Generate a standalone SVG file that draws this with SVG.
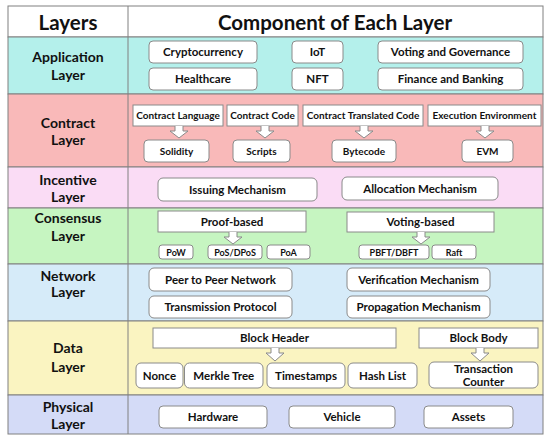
<svg xmlns="http://www.w3.org/2000/svg" width="550" height="441" viewBox="0 0 550 441">
<style>
.row{stroke:#808080;stroke-width:1}
.b{fill:#fff;stroke:#8a8a8a;stroke-width:1}
.t{font-family:Lato,"Open Sans","Liberation Sans",sans-serif;font-weight:bold;fill:#111;text-anchor:middle}
.s{font-size:11.5px}
.xs{font-size:10px}
.l{font-size:14px}
.h{font-size:20.5px}
.arr{fill:#fff;stroke:#8a8a8a;stroke-width:1}
</style>
<rect x="0" y="0" width="550" height="441" fill="#fff"/>
<g id="table">
<rect class="row" x="8" y="6" width="535" height="31" fill="#fff"/>
<rect class="row" x="8" y="37" width="535" height="57" fill="#b4f0eb"/>
<rect class="row" x="8" y="94" width="535" height="73" fill="#f9b9b9"/>
<rect class="row" x="8" y="167" width="535" height="41" fill="#fadcf5"/>
<rect class="row" x="8" y="208" width="535" height="56" fill="#c6f5c1"/>
<rect class="row" x="8" y="264" width="535" height="57" fill="#d6ebf9"/>
<rect class="row" x="8" y="321" width="535" height="74" fill="#faf4c1"/>
<rect class="row" x="8" y="395" width="535" height="39" fill="#d4dbf7"/>
<line class="row" x1="128" y1="6" x2="128" y2="434"/>
<text class="t h" x="68" y="29.5">Layers</text>
<text class="t h" x="335" y="29.5">Component of Each Layer</text>
<text class="t l" x="68" y="62">Application</text><text class="t l" x="68" y="80">Layer</text>
<text class="t l" x="68" y="128">Contract</text><text class="t l" x="68" y="145">Layer</text>
<text class="t l" x="68" y="185">Incentive</text><text class="t l" x="68" y="202">Layer</text>
<text class="t l" x="68" y="223">Consensus</text><text class="t l" x="68" y="241">Layer</text>
<text class="t l" x="68" y="281">Network</text><text class="t l" x="68" y="297">Layer</text>
<text class="t l" x="68" y="353">Data</text><text class="t l" x="68" y="372">Layer</text>
<text class="t l" x="68" y="412">Physical</text><text class="t l" x="68" y="429">Layer</text>
</g>
<g id="application">
<g id="n-crypto"><rect class="b" x="149" y="41" width="108" height="22" rx="4"/><text class="t s" x="203" y="56">Cryptocurrency</text></g>
<g id="n-health"><rect class="b" x="149" y="68" width="108" height="22" rx="4"/><text class="t s" x="203" y="83">Healthcare</text></g>
<g id="n-iot"><rect class="b" x="292" y="41" width="51" height="22" rx="4"/><text class="t s" x="317.5" y="56">IoT</text></g>
<g id="n-nft"><rect class="b" x="292" y="68" width="51" height="22" rx="4"/><text class="t s" x="317.5" y="83">NFT</text></g>
<g id="n-voting"><rect class="b" x="378" y="41" width="145" height="22" rx="4"/><text class="t s" x="450.5" y="56">Voting and Governance</text></g>
<g id="n-finance"><rect class="b" x="378" y="68" width="145" height="22" rx="4"/><text class="t s" x="450.5" y="83">Finance and Banking</text></g>
</g>
<g id="contract">
<g id="n-clang"><rect class="b" x="133" y="105" width="90" height="21"/><text class="t xs" x="178" y="119">Contract Language</text></g>
<g id="n-ccode"><rect class="b" x="227" y="105" width="71" height="21"/><text class="t xs" x="262.5" y="119">Contract Code</text></g>
<g id="n-ctrans"><rect class="b" x="303" y="105" width="120" height="21"/><text class="t xs" x="363" y="119">Contract Translated Code</text></g>
<g id="n-exec"><rect class="b" x="428" y="105" width="113" height="21"/><text class="t xs" x="484.5" y="119">Execution Environment</text></g>
<g id="n-solidity"><rect class="b" x="144" y="140" width="65" height="22" rx="4"/><text class="t xs" x="176.5" y="155">Solidity</text></g>
<g id="n-scripts"><rect class="b" x="233" y="140" width="57" height="22" rx="4"/><text class="t xs" x="261.5" y="155">Scripts</text></g>
<g id="n-bytecode"><rect class="b" x="332" y="140" width="64" height="22" rx="4"/><text class="t xs" x="364" y="155">Bytecode</text></g>
<g id="n-evm"><rect class="b" x="462" y="140" width="51" height="22" rx="4"/><text class="t xs" x="487.5" y="155">EVM</text></g>
</g>
<g id="incentive">
<g id="n-issuing"><rect class="b" x="158" y="178" width="159" height="23" rx="5"/><text class="t s" x="237.5" y="193.5">Issuing Mechanism</text></g>
<g id="n-alloc"><rect class="b" x="342" y="177" width="156" height="23" rx="5"/><text class="t s" x="420" y="192.5">Allocation Mechanism</text></g>
</g>
<g id="consensus">
<g id="n-proof"><rect class="b" x="158" y="211" width="148" height="21"/><text class="t s" x="232" y="225.5">Proof-based</text></g>
<g id="n-vote"><rect class="b" x="347" y="212" width="147" height="20"/><text class="t s" x="420.5" y="226">Voting-based</text></g>
<g id="n-pow"><rect class="b" x="159" y="245" width="34" height="14" rx="3"/><text class="t" font-size="9" x="176" y="255.5">PoW</text></g>
<g id="n-pos"><rect class="b" x="208" y="245" width="54" height="14" rx="3"/><text class="t" font-size="9" x="235" y="255.5">PoS/DPoS</text></g>
<g id="n-poa"><rect class="b" x="267" y="245" width="43" height="14" rx="3"/><text class="t" font-size="9" x="288.5" y="255.5">PoA</text></g>
<g id="n-pbft"><rect class="b" x="359" y="245" width="70" height="14" rx="3"/><text class="t" font-size="9" x="394" y="255.5">PBFT/DBFT</text></g>
<g id="n-raft"><rect class="b" x="432" y="245" width="44" height="14" rx="3"/><text class="t" font-size="9" x="454" y="255.5">Raft</text></g>
</g>
<g id="network">
<g id="n-p2p"><rect class="b" x="149" y="268" width="143" height="23" rx="5"/><text class="t s" x="220.5" y="283.5">Peer to Peer Network</text></g>
<g id="n-trans"><rect class="b" x="149" y="296" width="143" height="22" rx="5"/><text class="t s" x="220.5" y="311">Transmission Protocol</text></g>
<g id="n-verif"><rect class="b" x="347" y="268" width="143" height="23" rx="5"/><text class="t s" x="418.5" y="283.5">Verification Mechanism</text></g>
<g id="n-prop"><rect class="b" x="347" y="296" width="143" height="22" rx="5"/><text class="t s" x="418.5" y="311">Propagation Mechanism</text></g>
</g>
<g id="data">
<g id="n-header"><rect class="b" x="153" y="328" width="243" height="20"/><text class="t s" x="274.5" y="342">Block Header</text></g>
<g id="n-body"><rect class="b" x="419" y="328" width="119" height="20"/><text class="t s" x="478.5" y="342">Block Body</text></g>
<g id="n-nonce"><rect class="b" x="136" y="363" width="47" height="25" rx="5"/><text class="t s" x="159.5" y="379.5">Nonce</text></g>
<g id="n-merkle"><rect class="b" x="184.5" y="363" width="78.5" height="25" rx="5"/><text class="t s" x="223.75" y="379.5">Merkle Tree</text></g>
<g id="n-time"><rect class="b" x="267" y="363" width="78" height="25" rx="5"/><text class="t s" x="306" y="379.5">Timestamps</text></g>
<g id="n-hash"><rect class="b" x="348" y="363" width="69" height="25" rx="5"/><text class="t s" x="382.5" y="379.5">Hash List</text></g>
<g id="n-tc"><rect class="b" x="429" y="362" width="109" height="26" rx="5"/><text class="t s" x="483.5" y="372.5">Transaction</text><text class="t s" x="483.5" y="386">Counter</text></g>
</g>
<g id="physical">
<g id="n-hw"><rect class="b" x="159" y="406" width="108" height="22" rx="4"/><text class="t s" x="213" y="421">Hardware</text></g>
<g id="n-veh"><rect class="b" x="289" y="406" width="106" height="22" rx="4"/><text class="t s" x="342" y="421">Vehicle</text></g>
<g id="n-assets"><rect class="b" x="424" y="406" width="89" height="22" rx="4"/><text class="t s" x="468.5" y="421">Assets</text></g>
</g>
<g id="connectors">
<path class="arr" d="M175,126 V131 H170 L179,138 L188,131 H183 V126"/>
<path class="arr" d="M261,126 V131 H256 L265,138 L274,131 H269 V126"/>
<path class="arr" d="M360,126 V131 H355 L364,138 L373,131 H368 V126"/>
<path class="arr" d="M481,126 V131 H476 L485,138 L494,131 H489 V126"/>
<path class="arr" d="M229,232 V237 H224 L233,244 L242,237 H237 V232"/>
<path class="arr" d="M417,232 V237 H412 L421,244 L430,237 H425 V232"/>
<path class="arr" d="M271,348 V353 H266 L275,361 L284,353 H279 V348"/>
<path class="arr" d="M476,348 V353 H471 L480,361 L489,353 H484 V348"/>
</g>
</svg>
